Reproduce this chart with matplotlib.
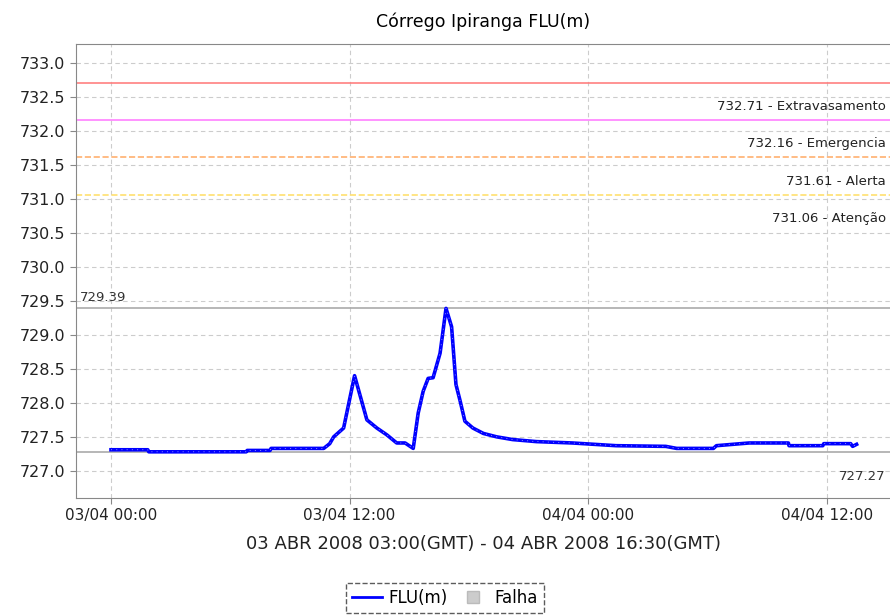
import matplotlib
matplotlib.use('Agg')
import matplotlib.pyplot as plt
from matplotlib.lines import Line2D

# hours since 03/04 00:00 (local) and level in m
horas = [0.0, 1.85, 1.9, 6.8, 6.85, 8.0, 8.05, 10.7, 11.0, 11.2, 11.7, 12.25,
         12.87, 13.37, 13.87, 14.37, 14.79, 15.2, 15.45, 15.7, 15.95, 16.2,
         16.55, 16.85, 17.13, 17.35, 17.55, 17.8, 18.2, 18.73, 19.4, 20.2,
         21.4, 23.2, 25.4, 27.9, 28.45, 30.3, 30.45, 32.1, 34.07, 34.1, 35.8,
         35.85, 37.2, 37.3, 37.5]
nivel = [727.31, 727.31, 727.28, 727.28, 727.30, 727.30, 727.33, 727.33,
         727.40, 727.50, 727.63, 728.40, 727.75, 727.63, 727.53, 727.41,
         727.41, 727.33, 727.85, 728.17, 728.36, 728.37, 728.73, 729.39,
         729.12, 728.27, 728.04, 727.73, 727.63, 727.55, 727.50, 727.46,
         727.43, 727.41, 727.37, 727.36, 727.33, 727.33, 727.37, 727.41,
         727.41, 727.37, 727.37, 727.40, 727.40, 727.36, 727.39]

cotas = [732.71, 732.16, 731.61, 731.06]
cotas_nome = ['Extravasamento', 'Emergencia', 'Alerta', 'Atenção']
cotas_cor = ['#ff8080', '#ff80ff', '#ffb070', '#ffe070']
cotas_estilo = ['-', '-', '--', '--']

maximo = 729.39
minimo = 727.27

xticks = [0, 12, 24, 36]
xlabels = ['03/04 00:00', '03/04 12:00', '04/04 00:00', '04/04 12:00']
yticks = [727.0, 727.5, 728.0, 728.5, 729.0, 729.5, 730.0, 730.5,
          731.0, 731.5, 732.0, 732.5, 733.0]

fig = plt.figure(figsize=(8.9, 6.15), dpi=100)
ax = fig.add_axes([0.0854, 0.1902, 0.9146, 0.7383])

ax.set_xlim(-1.76, 39.18)
ax.set_ylim(726.60, 733.28)
ax.set_xticks(xticks)
ax.set_xticklabels(xlabels, fontsize=11)
ax.set_yticks(yticks)
ax.set_yticklabels(['%.1f' % v for v in yticks], fontsize=11.5)
ax.grid(True, color='#cccccc', linestyle=(0, (4, 3)), linewidth=0.8)
ax.set_axisbelow(True)
ax.spines['right'].set_visible(False)
for s in ['left', 'bottom', 'top']:
    ax.spines[s].set_color('#888888')
ax.tick_params(colors='#888888', labelcolor='#222222', length=4)

for c, nome, cor, ls in zip(cotas, cotas_nome, cotas_cor, cotas_estilo):
    ax.axhline(c, color=cor, linestyle=ls, linewidth=1.2)
    ax.annotate('%.2f - %s' % (c, nome), xy=(1.0, c), xycoords=('axes fraction', 'data'),
                xytext=(-3, -17), textcoords='offset points', ha='right', va='center',
                fontsize=9.5, color='#222222')

ax.axhline(maximo, color='#aaaaaa', linewidth=1.2)
ax.axhline(minimo, color='#aaaaaa', linewidth=1.2)
ax.annotate('%.2f' % maximo, xy=(0.0, maximo), xycoords=('axes fraction', 'data'),
            xytext=(3, 8), textcoords='offset points', ha='left', va='center',
            fontsize=9.5, color='#333333')
ax.annotate('%.2f' % minimo, xy=(1.0, minimo), xycoords=('axes fraction', 'data'),
            xytext=(-3, -17), textcoords='offset points', ha='right', va='center',
            fontsize=9.5, color='#333333')

ax.plot(horas, nivel, color='#0000ff', linewidth=2.6, solid_joinstyle='round')
ax.plot(horas, nivel, color='white', linewidth=0.5, linestyle=(0, (1.5, 6)), alpha=0.7)

ax.set_title('Córrego Ipiranga FLU(m)', fontsize=12.5, pad=12)
ax.set_xlabel('03 ABR 2008 03:00(GMT) - 04 ABR 2008 16:30(GMT)', fontsize=13,
              labelpad=8, color='#222222')

handles = [Line2D([], [], color='#0000ff', linewidth=2),
           Line2D([], [], linestyle='none', marker='s', markersize=8,
                  markerfacecolor='#cccccc', markeredgecolor='#bbbbbb')]
leg = fig.legend(handles, ['FLU(m)', 'Falha'], loc='lower center',
                 bbox_to_anchor=(0.5, -0.01), ncol=2, fontsize=12,
                 handlelength=1.8, handletextpad=0.4, columnspacing=0.6,
                 fancybox=False, borderpad=0.35)
leg.get_frame().set_edgecolor('#333333')
leg.get_frame().set_linestyle('--')
leg.get_frame().set_linewidth(1.0)

fig.savefig('out.png', dpi=100)
